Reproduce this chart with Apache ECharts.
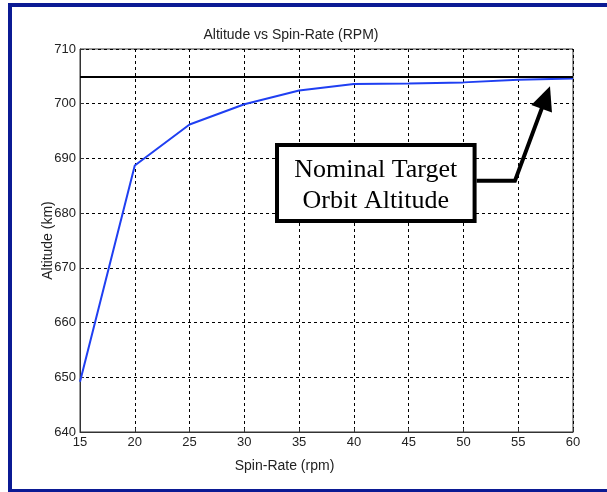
<!DOCTYPE html>
<html>
<head>
<meta charset="utf-8">
<script src="https://cdn.jsdelivr.net/npm/echarts@6/dist/echarts.min.js"></script>
<style>
html,body{margin:0;padding:0;background:#fff;}
#c{width:607px;height:492px;}
</style>
</head>
<body>
<div id="c"></div>
<script>
var spinRates = [15, 20, 25, 30, 35, 40, 45, 50, 55, 60];
var altitudes = [649.2, 688.7, 696.2, 699.9, 702.4, 703.6, 703.7, 703.9, 704.4, 704.6];
var targetAltitude = 705;
var xTicks = [15, 20, 25, 30, 35, 40, 45, 50, 55, 60];
var yTicks = [640, 650, 660, 670, 680, 690, 700, 710];
var annotationLines = ['Nominal Target', 'Orbit Altitude'];
// annotation anchors in data space
var boxCorners = [[32.8, 692.8], [51.2, 678.2]];
var arrowElbow = [54.7, 685.9];
var arrowTip = [57.9, 703.2];

var chart = echarts.init(document.getElementById('c'), null, {renderer: 'canvas'});
var font = 'Liberation Sans, Arial, sans-serif';
var option = {
  animation: false,
  backgroundColor: '#fff',
  title: {
    text: 'Altitude vs Spin-Rate (RPM)',
    left: 286, top: 23, textAlign: 'center',
    textStyle: {fontFamily: font, fontSize: 14, fontWeight: 'normal', color: '#222'}
  },
  grid: {left: 80, right: 34, top: 49, bottom: 60, show: true, borderColor: '#333', borderWidth: 1, backgroundColor: '#fff'},
  xAxis: {
    type: 'value', min: 15, max: 60, interval: 5,
    name: 'Spin-Rate (rpm)', nameLocation: 'middle', nameGap: 27,
    nameMoveOverlap: false,
    nameTextStyle: {fontFamily: font, fontSize: 14, color: '#222', padding: [0, 84, 0, 0]},
    axisLine: {show: true, lineStyle: {color: '#333'}},
    axisTick: {show: true, inside: true, length: 4, lineStyle: {color: '#333'}},
    axisLabel: {fontFamily: font, fontSize: 13, color: '#222', margin: 4,
      formatter: function (v) { return xTicks.indexOf(v) >= 0 ? String(v) : ''; }},
    splitLine: {show: true, lineStyle: {color: '#000', type: [3, 3], width: 1}}
  },
  yAxis: {
    type: 'value', min: 640, max: 710, interval: 10,
    name: 'Altitude (km)', nameLocation: 'middle', nameGap: 25, nameRotate: 90,
    nameMoveOverlap: false,
    nameTextStyle: {fontFamily: font, fontSize: 14, color: '#222'},
    axisLine: {show: true, lineStyle: {color: '#333'}},
    axisTick: {show: true, inside: true, length: 4, lineStyle: {color: '#333'}},
    axisLabel: {fontFamily: font, fontSize: 13, color: '#222', margin: 4,
      formatter: function (v) { return yTicks.indexOf(v) >= 0 ? String(v) : ''; }},
    splitLine: {show: true, lineStyle: {color: '#000', type: [3, 3], width: 1}}
  },
  series: [{
    type: 'line',
    data: spinRates.map(function (x, i) { return [x, altitudes[i]]; }),
    showSymbol: false,
    lineStyle: {color: '#1f3ff2', width: 2},
    z: 3,
    markLine: {
      silent: true, symbol: 'none', animation: false,
      label: {show: false},
      lineStyle: {color: '#000', width: 2, type: 'solid'},
      data: [{yAxis: targetAltitude}]
    }
  }]
};
chart.setOption(option);

function px(p) { return chart.convertToPixel({gridIndex: 0}, p); }
var b0 = px(boxCorners[0]), b1 = px(boxCorners[1]);
var el = px(arrowElbow), tip = px(arrowTip);
var dx = tip[0] - el[0], dy = tip[1] - el[1];
var len = Math.sqrt(dx * dx + dy * dy);
var ux = dx / len, uy = dy / len;
var nx = -uy, ny = ux;
var headLen = 24, headHalf = 11;
var bc = [tip[0] - headLen * ux, tip[1] - headLen * uy];
var shaftEnd = [tip[0] - (headLen - 2) * ux, tip[1] - (headLen - 2) * uy];
var cx = (b0[0] + b1[0]) / 2, cy = (b0[1] + b1[1]) / 2;

chart.setOption({
  graphic: [
    {type: 'rect', silent: true, z: 100,
      shape: {x: 10, y: 5, width: 700, height: 486},
      style: {fill: null, stroke: '#0b1a94', lineWidth: 4}},
    {type: 'polyline', silent: true, z: 50,
      shape: {points: [[b1[0], el[1]], el, shaftEnd]},
      style: {stroke: '#000', lineWidth: 4, fill: null}},
    {type: 'polygon', silent: true, z: 51,
      shape: {points: [tip, [bc[0] + headHalf * nx, bc[1] + headHalf * ny], [bc[0] - headHalf * nx, bc[1] - headHalf * ny]]},
      style: {fill: '#000'}},
    {type: 'rect', silent: true, z: 52,
      shape: {x: b0[0] + 2, y: b0[1] + 2, width: b1[0] - b0[0] - 4, height: b1[1] - b0[1] - 4},
      style: {fill: '#fff', stroke: '#000', lineWidth: 4}},
    {type: 'text', silent: true, z: 53,
      x: cx, y: cy + 3,
      style: {text: annotationLines.join('\n'), font: '26px "Liberation Serif", "Times New Roman", serif',
        fill: '#000', align: 'center', verticalAlign: 'middle', lineHeight: 31}}
  ]
});
</script>
</body>
</html>
